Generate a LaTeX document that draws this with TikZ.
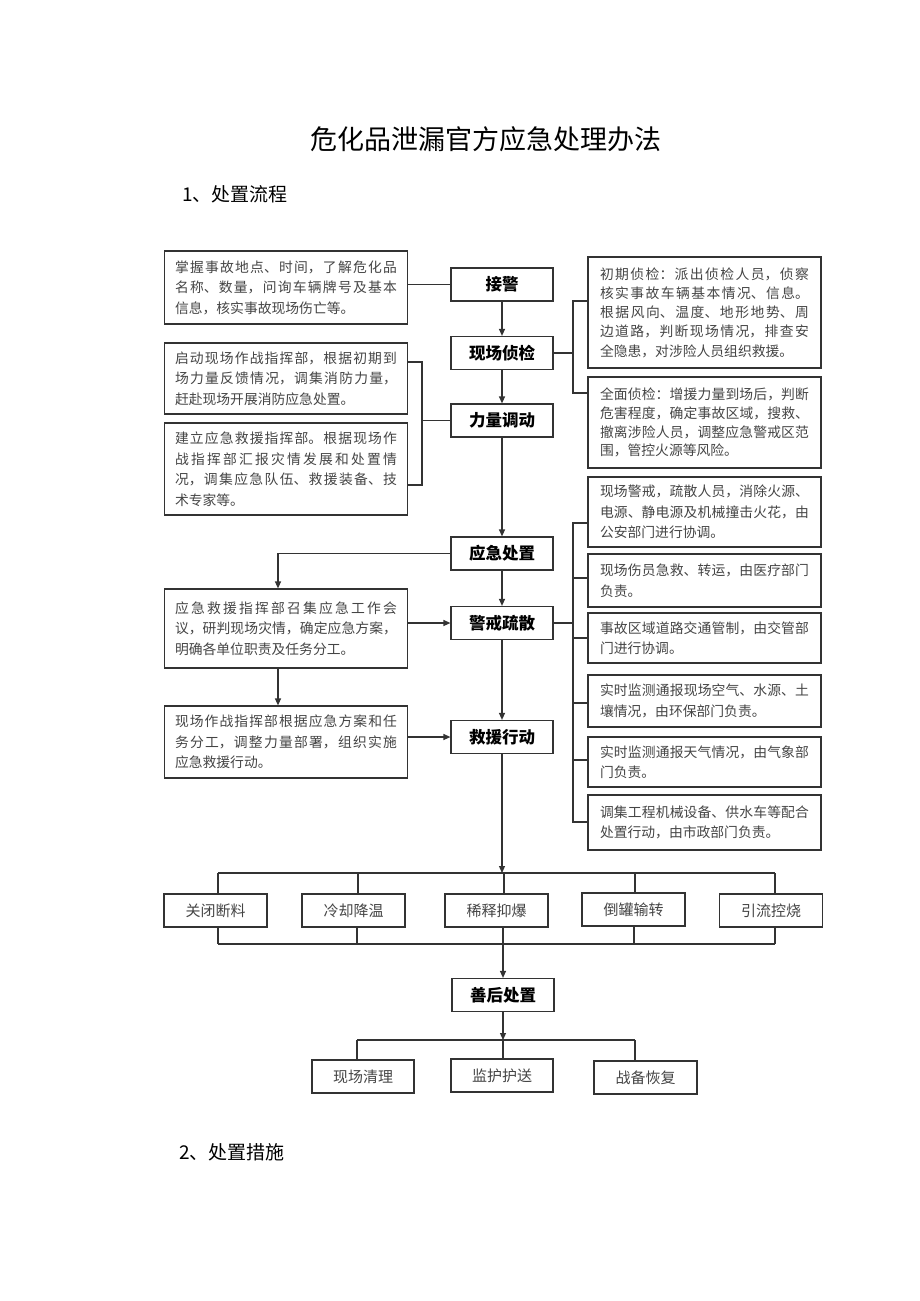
\documentclass[tikz,border=0pt]{standalone}
\usepackage{fontspec}
\setmainfont{Noto Sans CJK SC}
\XeTeXlinebreaklocale "zh"
\XeTeXlinebreakskip=0pt plus 4pt
\usetikzlibrary{arrows.meta}
\definecolor{lc}{HTML}{333333}
\definecolor{tc}{HTML}{454545}
\tikzset{
  ln/.style={draw=lc, line width=1.2pt},
  arr/.style={ln, -{Triangle[length=7pt,width=6pt]}},
  mainbox/.style={draw=lc, line width=1.2pt, minimum width=102pt, minimum height=33pt, inner sep=0pt, font=\fontsize{16.5}{18}\selectfont\bfseries, text=black},
  descbox/.style={draw=lc, line width=1.2pt, inner sep=0pt, align=justify, text=tc, font=\fontsize{13.8}{20.5}\selectfont},
  leftbox/.style={descbox, minimum width=243pt, text width=222pt},
  rightbox/.style={descbox, minimum width=233pt, text width=209pt},
  optbox/.style={draw=lc, line width=1.2pt, minimum width=103pt, minimum height=33pt, inner sep=0pt, font=\fontsize{15}{17}\selectfont, text=tc},
}
\begin{document}
\begin{tikzpicture}[x=1pt,y=-1pt]
\useasboundingbox (0,0) rectangle (920,1301);
\fill[white] (0,0) rectangle (920,1301);

% headings
\node[font=\fontsize{27}{30}\selectfont, text=black] (title) at (486,139) {危化品泄漏官方应急处理办法};
\node[font=\fontsize{19}{22}\selectfont, text=black, anchor=west, inner sep=0pt] (h1) at (182,194) {1、处置流程};
\node[font=\fontsize{19}{22}\selectfont, text=black, anchor=west, inner sep=0pt] (h2) at (179,1152) {2、处置措施};

% main column
\node[mainbox] (jj) at (502,284.5) {接警};
\node[mainbox] (xc) at (502,353) {现场侦检};
\node[mainbox] (ll) at (502,420.5) {力量调动};
\node[mainbox] (yj) at (502,553.5) {应急处置};
\node[mainbox] (jz) at (502,623) {警戒疏散};
\node[mainbox] (jy) at (502,737) {救援行动};
\node[mainbox] (sh) at (503,995) {善后处置};

% left boxes
\node[leftbox, minimum height=73pt] (L1) at (286,287.5) {掌握事故地点、时间，了解危化品\linebreak 名称、数量，问询车辆牌号及基本\linebreak 信息，核实事故现场伤亡等。};
\node[leftbox, minimum height=71pt] (L2) at (286,378.5) {启动现场作战指挥部，根据初期到\linebreak 场力量反馈情况，调集消防力量，\linebreak 赶赴现场开展消防应急处置。};
\node[leftbox, minimum height=92pt] (L3) at (286,469) {建立应急救援指挥部。根据现场作\linebreak 战指挥部汇报灾情发展和处置情\linebreak 况，调集应急队伍、救援装备、技\linebreak 术专家等。};
\node[leftbox, minimum height=79pt] (L4) at (286,628.5) {应急救援指挥部召集应急工作会\linebreak 议，研判现场灾情，确定应急方案，\linebreak 明确各单位职责及任务分工。};
\node[leftbox, minimum height=72pt] (L5) at (286,742) {现场作战指挥部根据应急方案和任\linebreak 务分工，调整力量部署，组织实施\linebreak 应急救援行动。};

% right boxes
\node[rightbox, minimum height=111pt, font=\fontsize{13.8}{19.3}\selectfont] (R1) at (704.5,312.5) {初期侦检：派出侦检人员，侦察\linebreak 核实事故车辆基本情况、信息。\linebreak 根据风向、温度、地形地势、周\linebreak 边道路，判断现场情况，排查安\linebreak 全隐患，对涉险人员组织救援。};
\node[rightbox, minimum height=91pt, font=\fontsize{13.8}{18.8}\selectfont] (R2) at (704.5,422.5) {全面侦检：增援力量到场后，判断\linebreak 危害程度，确定事故区域，搜救、\linebreak 撤离涉险人员，调整应急警戒区范\linebreak 围，管控火源等风险。};
\node[rightbox, minimum height=70pt] (R3) at (704.5,512) {现场警戒，疏散人员，消除火源、\linebreak 电源、静电源及机械撞击火花，由\linebreak 公安部门进行协调。};
\node[rightbox, minimum height=53pt] (R4) at (704.5,580.5) {现场伤员急救、转运，由医疗部门\linebreak 负责。};
\node[rightbox, minimum height=50pt] (R5) at (704.5,638) {事故区域道路交通管制，由交管部\linebreak 门进行协调。};
\node[rightbox, minimum height=52pt] (R6) at (704.5,701) {实时监测通报现场空气、水源、土\linebreak 壤情况，由环保部门负责。};
\node[rightbox, minimum height=50pt] (R7) at (704.5,762) {实时监测通报天气情况，由气象部\linebreak 门负责。};
\node[rightbox, minimum height=55pt] (R8) at (704.5,822.5) {调集工程机械设备、供水车等配合\linebreak 处置行动，由市政部门负责。};

% option row
\node[optbox] (b1) at (215.5,910.5) {关闭断料};
\node[optbox] (b2) at (353.5,910.5) {冷却降温};
\node[optbox] (b3) at (496.5,910.5) {稀释抑爆};
\node[optbox] (b4) at (633.5,909.5) {倒罐输转};
\node[optbox] (b5) at (771,910.5) {引流控烧};

% final row
\node[optbox, minimum width=102pt] (c1) at (363,1076.5) {现场清理};
\node[optbox, minimum width=102pt] (c2) at (502,1075.5) {监护护送};
\node[optbox, minimum width=103pt] (c3) at (645.5,1077.5) {战备恢复};

% helper coordinates
\coordinate (s1t) at (573,301);
\coordinate (s1b) at (573,393);
\coordinate (s2t) at (573,523);
\coordinate (s2b) at (573,822);
\coordinate (lb1) at (422,362);
\coordinate (lb2) at (422,485);
\coordinate (lx) at (278,0);
\coordinate (u1) at (218,873);
\coordinate (u2) at (358,873);
\coordinate (u3) at (504,873);
\coordinate (u4) at (635,873);
\coordinate (u5) at (775,873);
\coordinate (d1) at (218,944);
\coordinate (d2) at (357,944);
\coordinate (d3) at (503,944);
\coordinate (d4) at (634,944);
\coordinate (d5) at (775,944);
\coordinate (e1) at (357,1040);
\coordinate (e2) at (503,1040);
\coordinate (e3) at (635,1040);

% main arrows
\draw[arr] (jj.south) -- (xc.north);
\draw[arr] (xc.south) -- (ll.north);
\draw[arr] (ll.south) -- (yj.north);
\draw[arr] (yj.south) -- (jz.north);
\draw[arr] (jz.south) -- (jy.north);
\draw[arr] (jy.south) -- (jy.south |- u3);

% left connections
\draw[ln] (jj.west) -- (jj.west -| L1.east);
\draw[ln] (L2.east |- lb1) -- (lb1) -- (lb2) -- (L3.east |- lb2);
\draw[ln] (ll.west) -- (ll.west -| lb1);
\draw[arr] (yj.west) -| (L4.north -| lx);
\draw[arr] (L4.south -| lx) -- (L5.north -| lx);
\draw[arr] (L4.east |- jz.west) -- (jz.west);
\draw[arr] (L5.east |- jy.west) -- (jy.west);

% right brackets
\draw[ln] (xc.east) -- (xc.east -| s1t);
\draw[ln] (R1.west |- s1t) -- (s1t) -- (s1b) -- (R2.west |- s1b);
\draw[ln] (jz.east) -- (jz.east -| s2t);
\draw[ln] (R3.west |- s2t) -- (s2t) -- (s2b) -- (R8.west |- s2b);
\coordinate (a4) at (573,578);
\coordinate (a5) at (573,638);
\coordinate (a6) at (573,703);
\coordinate (a7) at (573,760);
\draw[ln] (a4) -- (R4.west |- a4);
\draw[ln] (a5) -- (R5.west |- a5);
\draw[ln] (a6) -- (R6.west |- a6);
\draw[ln] (a7) -- (R7.west |- a7);

% option buses
\draw[ln] (u1) -- (u5);
\draw[ln] (u1) -- (b1.north -| u1);
\draw[ln] (u2) -- (b2.north -| u2);
\draw[ln] (u3) -- (b3.north -| u3);
\draw[ln] (u4) -- (b4.north -| u4);
\draw[ln] (u5) -- (b5.north -| u5);
\draw[ln] (d1) -- (d5);
\draw[ln] (b1.south -| d1) -- (d1);
\draw[ln] (b2.south -| d2) -- (d2);
\draw[ln] (b3.south -| d3) -- (d3);
\draw[ln] (b4.south -| d4) -- (d4);
\draw[ln] (b5.south -| d5) -- (d5);
\draw[arr] (d3) -- (sh.north -| d3);

% final bus
\draw[arr] (sh.south -| e2) -- (e2);
\draw[ln] (e1) -- (e3);
\draw[ln] (e1) -- (c1.north -| e1);
\draw[ln] (e2) -- (c2.north -| e2);
\draw[ln] (e3) -- (c3.north -| e3);
\end{tikzpicture}
\end{document}
